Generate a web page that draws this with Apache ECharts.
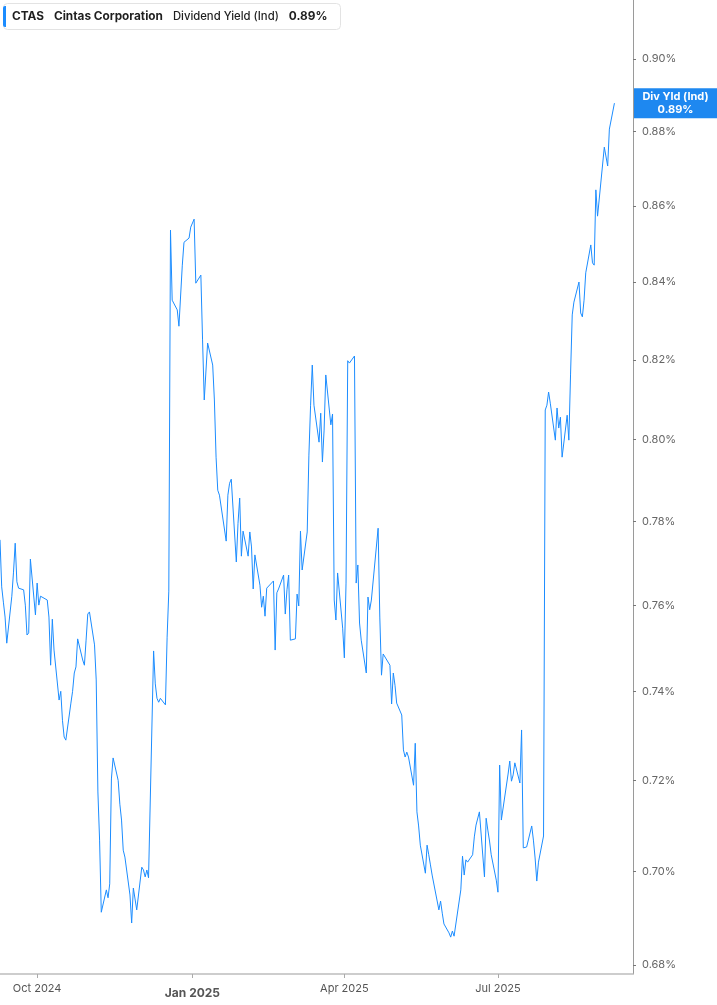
<!DOCTYPE html>
<html>
<head>
<meta charset="utf-8">
<script src="https://cdn.jsdelivr.net/npm/echarts@6/dist/echarts.min.js"></script>
<style>
  html, body { margin: 0; padding: 0; background: #fff; }
  #chart { width: 717px; height: 1005px; }
</style>
</head>
<body>
<div id="chart"></div>
<script>
// ---- data ----
const ticker = 'CTAS';
const companyName = 'Cintas Corporation';
const metricName = 'Dividend Yield (Ind)';
const axisBadgeName = 'Div Yld (Ind)';

// trading days shown on the chart, per month
const tradingDays = [
  ['2024-09', [9,10,11,12,13,16,17,18,19,20,23,24,25,26,27,30]],
  ['2024-10', [1,2,3,4,7,8,9,10,11,14,15,16,17,18,21,22,23,24,25,28,29,30,31]],
  ['2024-11', [1,4,5,6,7,8,11,12,13,14,15,18,19,20,21,22,25,26,27,29]],
  ['2024-12', [2,3,4,5,6,9,10,11,12,13,16,17,18,19,20,23,24,26,27,30,31]],
  ['2025-01', [2,3,6,7,8,10,13,14,15,16,17,21,22,23,24,27,28,29,30,31]],
  ['2025-02', [3,4,5,6,7,10,11,12,13,14,18,19,20,21,24,25,26,27,28]],
  ['2025-03', [3,4,5,6,7,10,11,12,13,14,17,18,19,20,21,24,25,26,27,28,31]],
  ['2025-04', [1,2,3,4,7,8,9,10,11,14,15,16,17,21,22,23,24,25,28,29,30]],
  ['2025-05', [1,2,5,6,7,8,9,12,13,14,15,16,19,20,21,22,23,27,28,29,30]],
  ['2025-06', [2,3,4,5,6,9,10,11,12,13,16,17,18,20,23,24,25,26,27,30]],
  ['2025-07', [1,2,3,7,8,9,10,11,14,15,16,17,18,21,22,23,24,25,28,29,30,31]],
  ['2025-08', [1,4,5,6,7,8,11,12,13,14,15,18,19,20,21,22,25,26,27,28,29]],
  ['2025-09', [2,3,4,5,8]]
];

// dividend yield (%) per trading day, in the same order
const dividendYield = [
  // Sep 2024
  0.7756,0.7644,0.7608,0.7573,0.7512,0.7622,0.7679,0.7748,0.7656,0.7641,0.7637,0.7601,0.7531,0.7536,0.7710,0.7578,
  // Oct 2024
  0.7653,0.7601,0.7622,0.7618,0.7613,0.7573,0.7461,0.7568,0.7496,0.7381,0.7401,0.7335,0.7297,0.7290,0.7374,0.7401,0.7443,0.7457,0.7522,0.7473,0.7461,0.7519,0.7580,
  // Nov 2024
  0.7585,0.7508,0.7427,0.7174,0.7068,0.6912,0.6960,0.6943,0.6973,0.7203,0.7250,0.7200,0.7147,0.7112,0.7046,0.7031,0.6949,0.6889,0.6964,0.6917,
  // Dec 2024
  0.7009,0.7003,0.6988,0.7003,0.6986,0.7494,0.7418,0.7385,0.7376,0.7385,0.7370,0.7526,0.7634,0.8536,0.8353,0.8328,0.8286,0.8444,0.8504,0.8515,0.8544,
  // Jan 2025
  0.8565,0.8397,0.8418,0.8251,0.8099,0.8243,0.8187,0.8099,0.7957,0.7876,0.7864,0.7753,0.7864,0.7893,0.7903,0.7703,0.7796,0.7857,0.7717,0.7777,
  // Feb 2025
  0.7717,0.7775,0.7739,0.7639,0.7720,0.7648,0.7596,0.7622,0.7575,0.7641,0.7658,0.7496,0.7630,0.7639,0.7672,0.7580,0.7637,0.7672,0.7519,
  // Mar 2025
  0.7522,0.7627,0.7599,0.7777,0.7684,0.7775,0.7962,0.8086,0.8187,0.8086,0.7994,0.8066,0.7945,0.8024,0.8162,0.8037,0.8064,0.7613,0.7566,0.7677,0.7547,
  // Apr 2025
  0.7478,0.7653,0.8198,0.8192,0.8210,0.7653,0.7696,0.7559,0.7519,0.7443,0.7620,0.7590,0.7613,0.7784,0.7573,0.7438,0.7487,0.7487,0.7461,0.7372,0.7443,
  // May 2025
  0.7415,0.7374,0.7347,0.7268,0.7252,0.7263,0.7252,0.7189,0.7283,0.7130,0.7099,0.7057,0.6996,0.7057,0.7036,0.7014,0.6992,0.6917,0.6936,0.6910,0.6887,
  // Jun 2025
  0.6868,0.6859,0.6872,0.6861,0.6857,0.6960,0.7033,0.6992,0.7025,0.7020,0.7036,0.7075,0.7101,0.7130,0.6988,0.7116,0.7090,0.7066,0.7036,0.6981,
  // Jul 2025
  0.6955,0.7234,0.7112,0.7214,0.7243,0.7198,0.7212,0.7239,0.7194,0.7313,0.7051,0.7049,0.7053,0.7099,0.7068,0.7029,0.6979,0.7020,0.7077,0.8074,0.8086,0.8119,
  // Aug 2025
  0.8091,0.7999,0.8079,0.8029,0.8056,0.7957,0.8061,0.7999,0.8162,0.8315,0.8348,0.8400,0.8320,0.8310,0.8353,0.8424,0.8497,0.8450,0.8444,0.8643,0.8573,
  // Sep 2025
  0.8758,0.8756,0.8707,0.8807,0.8878
];

const xTickDates = ['2024-10-01', '2025-01-01', '2025-04-01', '2025-07-01'];
const yTickValues = [0.68, 0.70, 0.72, 0.74, 0.76, 0.78, 0.80, 0.82, 0.84, 0.86, 0.88, 0.90];
const xRange = ['2024-09-09', '2025-09-19'];
const yRange = [0.67812, 0.91659];

// ---- build ----
function toTime(s) {
  const p = s.split('-').map(Number);
  return new Date(p[0], p[1] - 1, p[2]).getTime();
}
const dates = [];
tradingDays.forEach(([ym, days]) => days.forEach(d => dates.push(ym + '-' + String(d).padStart(2, '0'))));
const seriesData = dates.map((d, i) => [toTime(d), dividendYield[i]]);
const xTicks = xTickDates.map(toTime);
const lastValue = dividendYield[dividendYield.length - 1];
const lastLabel = lastValue.toFixed(2) + '%';

const monthNames = ['Jan','Feb','Mar','Apr','May','Jun','Jul','Aug','Sep','Oct','Nov','Dec'];
const BLUE = '#1b8cff';
const FONT = 'Inter, "Noto Sans", sans-serif';

const chart = echarts.init(document.getElementById('chart'), null, { renderer: 'canvas' });
chart.setOption({
  animation: false,
  textStyle: { fontFamily: FONT },
  title: {
    left: 3, top: 3,
    padding: [3, 13, 3, 0],
    backgroundColor: '#fff',
    borderColor: '#e3e3e3', borderWidth: 1, borderRadius: 4,
    text: '{bar|}{g|}{b|' + ticker + '}{s|}{b|' + companyName + '}{s|}{m|' + metricName + '}{s|}{b|' + lastLabel + '}',
    textStyle: {
      rich: {
        bar: { width: 3, height: 21, backgroundColor: BLUE, borderRadius: [2, 0, 0, 2] },
        g: { width: 6 },
        s: { width: 10 },
        b: { fontFamily: FONT, fontSize: 11.8, fontWeight: 700, color: '#1f1f1f' },
        m: { fontFamily: FONT, fontSize: 11.3, fontWeight: 500, color: '#1f1f1f' }
      }
    }
  },
  grid: { left: 0, right: 84, top: 0, bottom: 31 },
  xAxis: {
    type: 'value',
    min: toTime(xRange[0]), max: toTime(xRange[1]),
    axisLine: { show: true, lineStyle: { color: '#bdbdbd', width: 1.5 } },
    axisTick: { show: true, customValues: xTicks, length: 4, lineStyle: { color: '#aaaaaa' } },
    splitLine: { show: false },
    axisLabel: {
      customValues: xTicks,
      margin: 9,
      color: '#555',
      fontSize: 11,
      fontFamily: FONT,
      formatter: function (v) {
        const d = new Date(v);
        const txt = monthNames[d.getMonth()] + ' ' + d.getFullYear();
        return d.getMonth() === 0 ? '{y|' + txt + '}' : txt;
      },
      rich: {
        y: { fontFamily: FONT, fontSize: 12, fontWeight: 700, color: '#555', padding: [4, 0, 0, 0] }
      }
    }
  },
  yAxis: {
    type: 'log',
    logBase: 10,
    position: 'right',
    min: yRange[0], max: yRange[1],
    axisLine: { show: true, lineStyle: { color: '#9a9a9a', width: 1 } },
    axisTick: { show: true, customValues: yTickValues, length: 3, lineStyle: { color: '#777' } },
    splitLine: { show: false },
    minorTick: { show: false },
    minorSplitLine: { show: false },
    axisLabel: {
      customValues: yTickValues,
      margin: 9,
      color: '#666',
      fontSize: 11,
      fontFamily: FONT,
      formatter: v => Number(v).toFixed(2) + '%'
    }
  },
  series: [{
    type: 'line',
    data: seriesData,
    showSymbol: false,
    symbol: 'none',
    clip: false,
    lineStyle: { color: BLUE, width: 1 },
    itemStyle: { color: BLUE },
    markLine: {
      silent: true,
      symbol: ['none', 'none'],
      lineStyle: { color: 'rgba(0,0,0,0)', width: 0, type: 'solid' },
      emphasis: { disabled: true },
      data: [{ yAxis: lastValue }],
      label: {
        show: true,
        opacity: 1,
        position: 'end',
        distance: 1,
        offset: [0, 8],
        backgroundColor: '#1e88f0',
        padding: [2, 0, 2, 0],
        formatter: '{a|' + axisBadgeName + '}\n{a|' + lastLabel + '}',
        rich: {
          a: { width: 83, align: 'center', color: '#fff', fontFamily: FONT, fontSize: 11, fontWeight: 700, lineHeight: 13 }
        }
      }
    }
  }]
});
</script>
</body>
</html>
